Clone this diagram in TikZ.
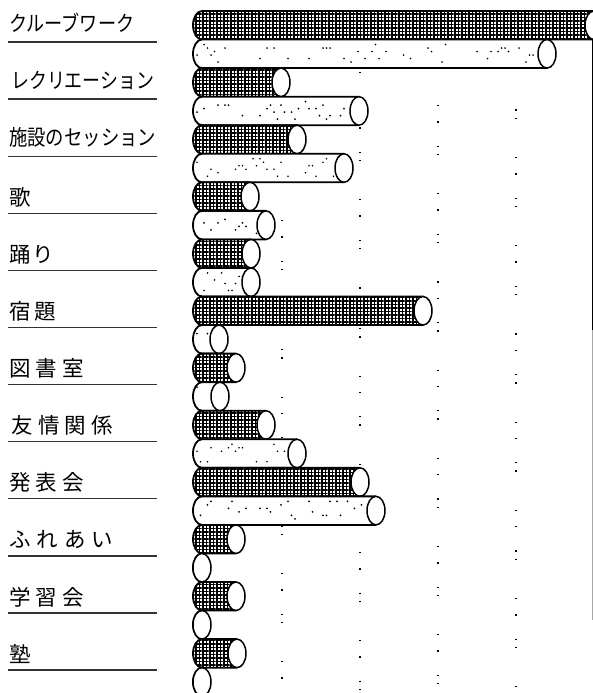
\documentclass[tikz,border=0pt]{standalone}
\usepackage{fontspec}
\usepackage{graphicx}
\newfontfamily\jp{Noto Sans CJK JP}
\usetikzlibrary{patterns.meta}
\tikzset{
  darkbar/.style={preaction={fill=white},pattern={Hatch[angle=0,distance=3.5pt,line width=1.5pt]}},
  lightbar/.style={fill=white},
  barline/.style={line width=1.8pt,line join=round},
  capline/.style={line width=1.5pt,fill=white},
  uline/.style={line width=1.3pt,black!80},
  lab/.style={anchor=base west,inner sep=0pt,font=\jp\fontsize{21.5}{21.5}\selectfont},
  griddot/.style={line width=1.3pt,black,dash pattern=on 1.3pt off 23pt on 1.3pt off 7pt on 1.3pt off 38pt on 1.3pt off 15pt},
  frame/.style={line width=1pt}
}
\newcommand\cyl[3]{%
  \pgfmathsetmacro\yb{#1+28.55}%
  \pgfmathsetmacro\ym{#1+14.275}%
  \ifx d#3
    \path[darkbar] (#2,#1) -- (202,#1) arc[start angle=270,end angle=90,x radius=9,y radius=14.275] -- (#2,\yb) -- cycle;
  \else
    \path[lightbar] (#2,#1) -- (202,#1) arc[start angle=270,end angle=90,x radius=9,y radius=14.275] -- (#2,\yb) -- cycle;
    \pgfmathsetmacro\xl{#2-6}%
    \foreach \c in {197,200.5,...,\xl}{%
      \pgfmathrandominteger{\p}{0}{9}%
      \pgfmathrandominteger{\q}{0}{5}%
      \ifnum\p<5 \fill (\c,#1+5+3.5*\q) circle[radius=0.95]; \fi
    }%
  \fi
  \draw[barline] (#2,#1) -- (202,#1) arc[start angle=270,end angle=90,x radius=9,y radius=14.275] -- (#2,\yb);
  \draw[capline] (#2,\ym) ellipse[x radius=9,y radius=14.275];
}
\begin{document}
\begin{tikzpicture}[x=1pt,y=-1pt]
\pgfmathsetseed{12}
\useasboundingbox (0,0) rectangle (593,693);
\fill[white] (0,0) rectangle (593,693);
% dotted grid columns
\draw[griddot] (282,60) -- (282,693);
\draw[griddot,dash phase=11pt] (360,50) -- (360,693);
\draw[griddot,dash phase=27pt] (438,60) -- (438,693);
\draw[griddot,dash phase=5pt] (516,90) -- (516,693);
% right frame
\draw[frame] (592,36) -- (592,330);
\draw[frame,black!35] (592,330) -- (592,620);
% bars
\cyl{11}{594}{d}
\cyl{39.55}{547}{l}
\cyl{68.1}{281}{d}
\cyl{96.65}{359}{l}
\cyl{125.2}{297}{d}
\cyl{153.75}{344}{l}
\cyl{182.3}{250}{d}
\cyl{210.85}{266}{l}
\cyl{239.4}{251}{d}
\cyl{267.95}{251}{l}
\cyl{296.5}{423}{d}
\cyl{325.05}{219}{l}
\cyl{353.6}{236}{d}
\cyl{382.15}{220}{l}
\cyl{410.7}{266}{d}
\cyl{439.25}{297}{l}
\cyl{467.8}{360}{d}
\cyl{496.35}{376}{l}
\cyl{524.9}{236}{d}
\cyl{553.45}{202}{l}
\cyl{582}{236}{d}
\cyl{610.55}{202}{l}
\cyl{639.1}{237}{d}
\cyl{667.65}{202}{l}
% labels
\node[lab] (l0) at (9,31) {\resizebox{125pt}{\height}{クルーブワーク}};
\node[lab] (l1) at (11,88) {\resizebox{143pt}{\height}{レクリエーション}};
\node[lab] (l2) at (9,145) {\resizebox{147pt}{\height}{施設のセッション}};
\node[lab] (l3) at (9,205) {歌};
\node[lab] (l4) at (9,262) {\makebox[45pt][s]{踊\hfil り}};
\node[lab] (l5) at (9,319) {\makebox[47pt][s]{宿\hfil 題}};
\node[lab] (l6) at (9,376.5) {\makebox[75pt][s]{図\hfil 書\hfil 室}};
\node[lab] (l7) at (11,433.5) {\makebox[102pt][s]{友\hfil 情\hfil 関\hfil 係}};
\node[lab] (l8) at (9,490.5) {\makebox[75pt][s]{発\hfil 表\hfil 会}};
\node[lab] (l9) at (9,547.5) {\makebox[104pt][s]{ふ\hfil れ\hfil あ\hfil い}};
\node[lab] (l10) at (9,605) {\makebox[75pt][s]{学\hfil 習\hfil 会}};
\node[lab] (l11) at (9,662) {塾};
% underlines
\foreach \i/\y in {0/42,1/99.1,2/156.2,3/213.3,4/270.4,5/327.5,6/384.6,7/441.7,8/498.8,9/555.9,10/613,11/670.1}{
  \coordinate (ua\i) at (8,\y);
  \coordinate (ub\i) at (157,\y);
  \draw[uline] (ua\i) -- (ub\i);
}
\end{tikzpicture}
\end{document}
